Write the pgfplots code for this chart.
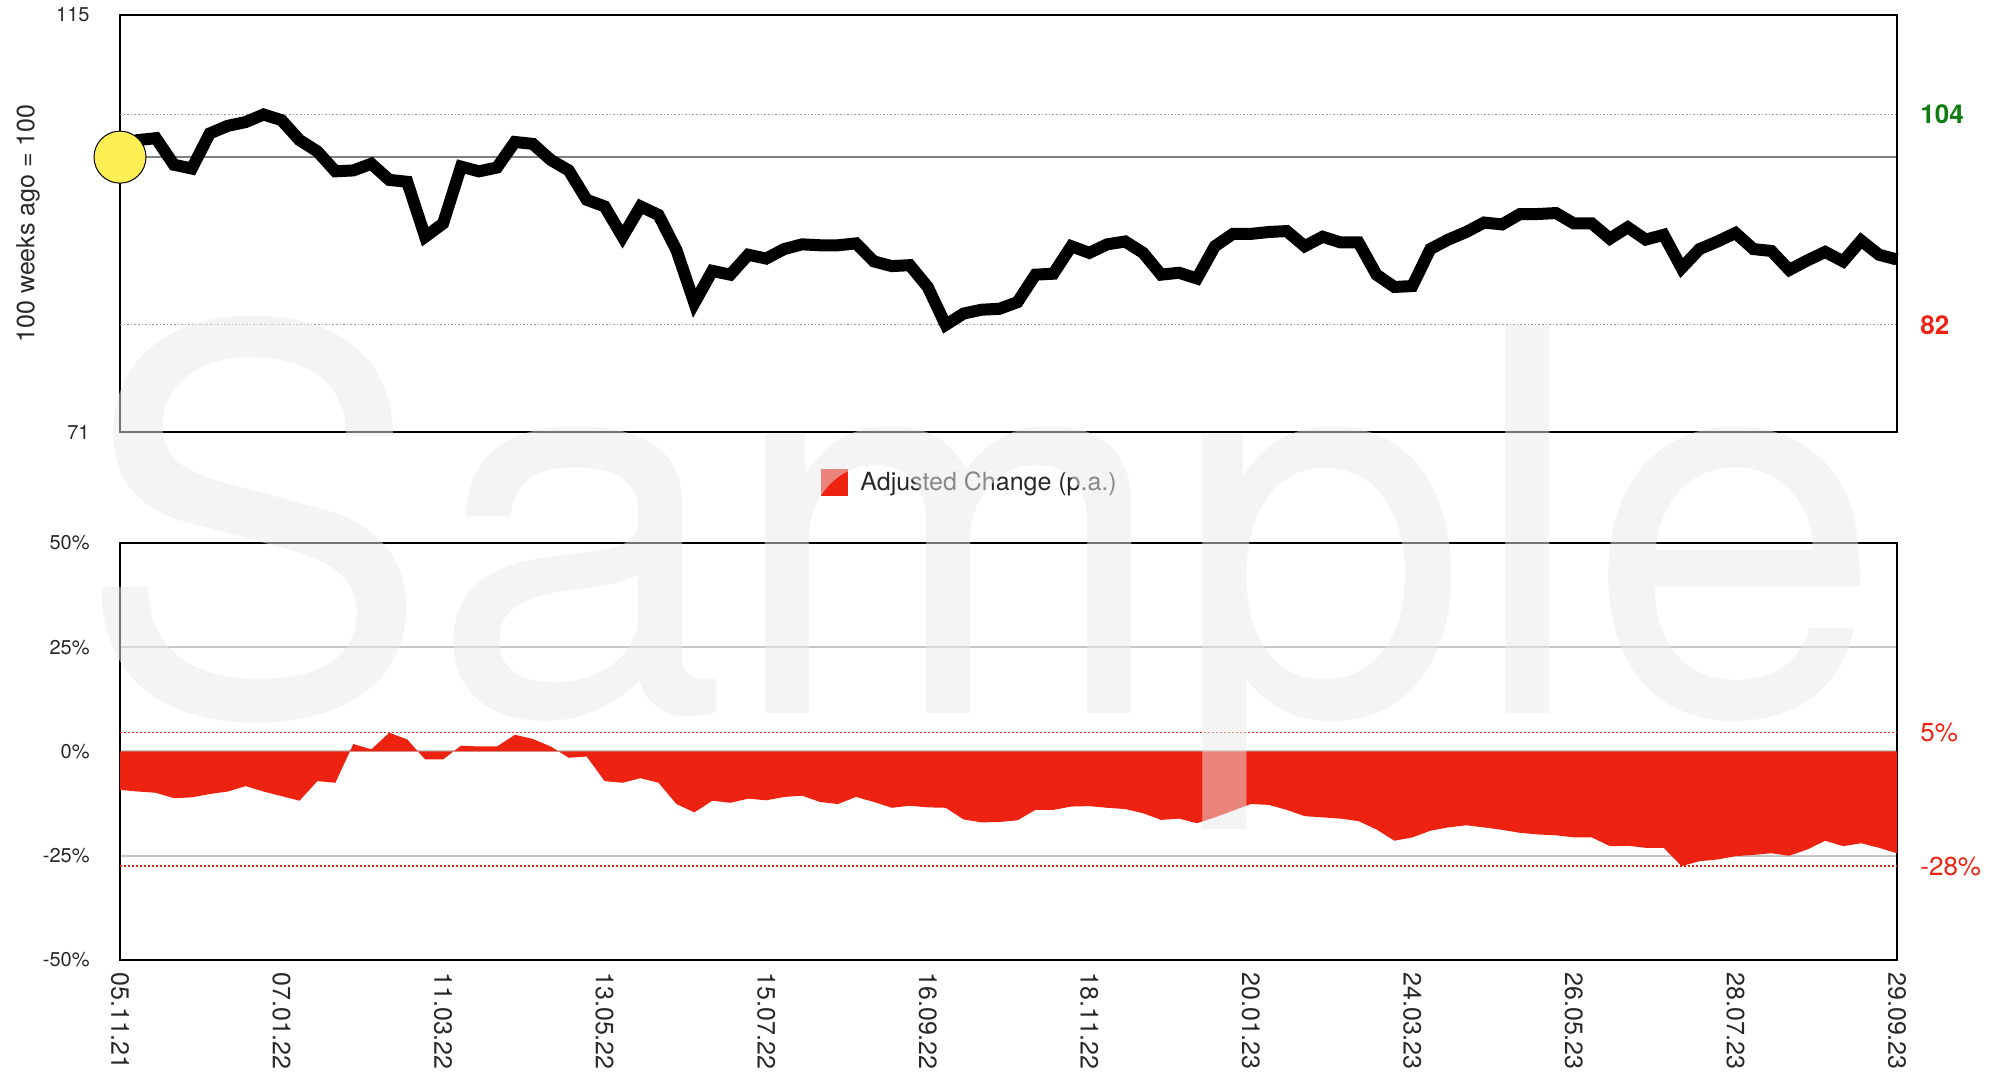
\documentclass[border=0pt]{standalone}
\usepackage{fontspec}
\setmainfont{TeX Gyre Heros}
\usepackage{pgfplots}
\pgfplotsset{compat=1.18}
\usepackage{pgfplotstable}

\definecolor{chgred}{RGB}{238,34,16}
\definecolor{hiGreen}{RGB}{16,125,16}
\definecolor{txtgray}{RGB}{40,40,40}
\definecolor{wmgray}{RGB}{233,233,233}
\definecolor{dotYellow}{RGB}{255,239,85}

% week index, indexed price (100 weeks ago = 100), adjusted change p.a. in %
\pgfplotstableread{
idx price chg
0 100.0 -9.2
1 101.8 -9.6
2 102.0 -9.9
3 99.2 -11.2
4 98.8 -11.0
5 102.5 -10.2
6 103.3 -9.6
7 103.7 -8.3
8 104.5 -9.6
9 103.9 -10.7
10 101.8 -11.8
11 100.6 -7.1
12 98.5 -7.5
13 98.6 1.8
14 99.3 0.5
15 97.6 4.5
16 97.4 2.9
17 91.6 -1.9
18 93.0 -1.9
19 99.0 1.4
20 98.5 1.2
21 98.9 1.2
22 101.6 4.0
23 101.4 3.0
24 99.7 1.2
25 98.6 -1.5
26 95.5 -1.2
27 94.8 -7.1
28 91.6 -7.5
29 94.8 -6.4
30 93.9 -7.5
31 90.2 -12.6
32 84.6 -14.6
33 88.0 -11.8
34 87.6 -12.3
35 89.7 -11.3
36 89.3 -11.7
37 90.3 -10.9
38 90.8 -10.6
39 90.7 -12.1
40 90.7 -12.6
41 90.9 -10.9
42 89.0 -12.1
43 88.5 -13.5
44 88.6 -13.0
45 86.3 -13.4
46 82.3 -13.5
47 83.5 -16.3
48 83.9 -17.0
49 84.0 -16.9
50 84.7 -16.5
51 87.6 -14.0
52 87.7 -14.0
53 90.6 -13.2
54 89.9 -13.1
55 90.8 -13.5
56 91.1 -13.8
57 89.9 -14.8
58 87.6 -16.4
59 87.8 -16.1
60 87.2 -17.2
61 90.6 -15.8
62 91.9 -14.2
63 91.9 -12.6
64 92.1 -12.8
65 92.2 -14.0
66 90.6 -15.5
67 91.6 -15.8
68 91.0 -16.1
69 91.0 -16.7
70 87.6 -18.7
71 86.3 -21.4
72 86.4 -20.6
73 90.3 -19.0
74 91.3 -18.2
75 92.1 -17.7
76 93.1 -18.2
77 92.9 -18.8
78 94.0 -19.5
79 94.0 -19.9
80 94.1 -20.1
81 93.0 -20.6
82 93.0 -20.6
83 91.4 -22.7
84 92.6 -22.6
85 91.3 -23.1
86 91.8 -23.1
87 88.3 -27.5
88 90.3 -26.3
89 91.1 -25.9
90 92.0 -25.1
91 90.3 -24.8
92 90.1 -24.4
93 88.1 -25.0
94 89.1 -23.5
95 90.0 -21.4
96 89.0 -22.7
97 91.2 -22.0
98 89.7 -23.1
99 89.2 -24.4
}\weekly

\begin{document}
\begin{tikzpicture}
\useasboundingbox (0pt,0pt) rectangle (1003pt,540pt);
\pgfplotsset{
  every axis/.append style={
    scale only axis, width=888.5pt, height=208.5pt,
    xmin=0, xmax=99,
    axis line style={black, line width=0.8pt},
    major tick length=0pt,
    tick label style={font=\fontsize{10}{12}\selectfont, text=txtgray},
    yticklabel style={xshift=-11.7pt},
    /pgf/number format/assume math mode=true,
  }
}

% upper panel: indexed price
\begin{axis}[
  at={(60pt,324pt)}, anchor=south west,
  ymin=71, ymax=115,
  ytick={71,100,115}, yticklabels={71,,115},
  xtick=\empty,
  ymajorgrids, grid style={gray, line width=0.8pt},
  extra y ticks={82.3,104.5}, extra y tick labels={},
  extra y tick style={major grid style={densely dotted, gray!80, line width=0.6pt}},
  ylabel={100 weeks ago = 100},
  every axis y label/.style={at={(axis description cs:-0.0518,0.5)}, rotate=90, anchor=center,
    font=\fontsize{12.5}{15}\selectfont, text=txtgray},
  clip=false,
]
\addplot[only marks, mark=*, mark size=13pt, mark options={fill=dotYellow, draw=black, line width=0.5pt}]
  coordinates {(0,100)};
\addplot[black, line width=6pt] table[x=idx, y=price] {\weekly};
\node[anchor=west, inner sep=0pt, xshift=11.5pt, text=hiGreen, font=\fontsize{13}{15}\selectfont\bfseries]
  at (axis cs:99,104.5) {104};
\node[anchor=west, inner sep=0pt, xshift=11.5pt, text=chgred, font=\fontsize{13}{15}\selectfont\bfseries]
  at (axis cs:99,82.3) {82};
\end{axis}

% lower panel: adjusted change p.a.
\begin{axis}[
  at={(60pt,60pt)}, anchor=south west,
  ymin=-50, ymax=50,
  ytick={-50,-25,0,25,50}, yticklabels={-50\%,-25\%,0\%,25\%,50\%},
  xtick={0,9,...,99},
  xticklabels={05.11.21,07.01.22,11.03.22,13.05.22,15.07.22,16.09.22,18.11.22,20.01.23,24.03.23,26.05.23,28.07.23,29.09.23},
  xticklabel style={rotate=-90, anchor=west, inner xsep=6pt, inner ysep=0pt,
    font=\fontsize{12.5}{15}\selectfont},
  ymajorgrids, grid style={gray!45, line width=1pt},
  extra y ticks={-27.5,4.5}, extra y tick labels={},
  extra y tick style={major grid style={densely dotted, chgred, line width=0.7pt}},
  legend style={at={(0.3945,1.144)}, anchor=west, draw=none, fill=none, inner sep=0pt,
    font=\fontsize{12.5}{15}\selectfont, text=txtgray,
    /tikz/every odd column/.append style={column sep=4pt}},
  clip=false,
]
\addplot[fill=chgred, draw=none,
  legend image code/.code={\fill[chgred] (0pt,-6.75pt) rectangle (13.5pt,6.75pt);}]
  table[x=idx, y=chg] {\weekly} \closedcycle;
\addlegendentry{Adjusted Change (p.a.)}
\node[anchor=west, inner sep=0pt, xshift=11.5pt, text=chgred, font=\fontsize{13}{15}\selectfont]
  at (axis cs:99,4.5) {5\%};
\node[anchor=west, inner sep=0pt, xshift=11.5pt, text=chgred, font=\fontsize{13}{15}\selectfont]
  at (axis cs:99,-27.5) {-28\%};
\end{axis}

% watermark
\node[anchor=base, inner sep=0pt, text=wmgray, opacity=0.5, font=\fontsize{266}{266}\selectfont]
  at (490pt,183pt) {Sample};
\end{tikzpicture}
\end{document}
